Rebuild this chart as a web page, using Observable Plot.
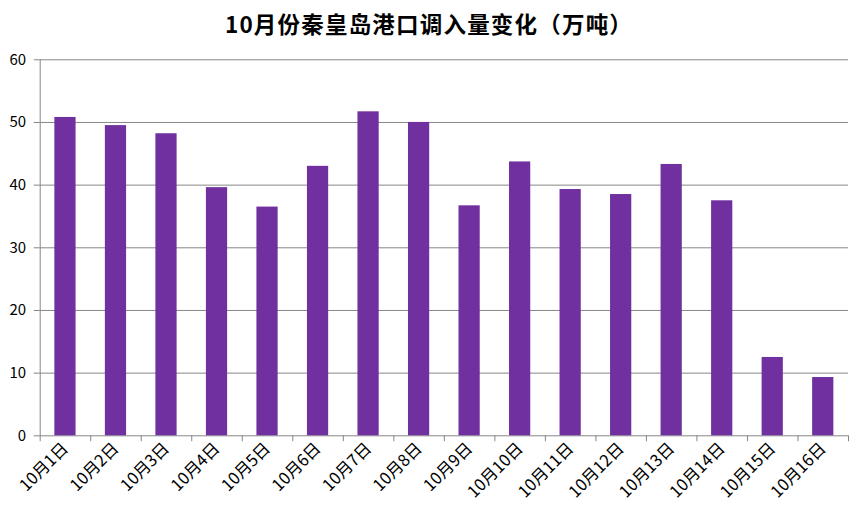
<!DOCTYPE html>
<html>
<head>
<meta charset="utf-8">
<script src="https://cdn.jsdelivr.net/npm/d3@7"></script>
<script src="https://cdn.jsdelivr.net/npm/@observablehq/plot@0.6"></script>
<style>
  html, body { margin: 0; padding: 0; background: #fff; overflow: hidden; }
  #title { height: 40px; line-height: 46px; text-align: center; font-family: "Noto Sans CJK SC", sans-serif; font-weight: bold; font-size: 22.5px; color: #000; letter-spacing: 1.2px; white-space: nowrap; }
  #chart svg { display: block; }
  #chart svg text { font-size: 15px; }
  #chart svg g.xlab text { font-size: 16.5px; }
</style>
</head>
<body>
<div id="title">10月份秦皇岛港口调入量变化（万吨）</div>
<div id="chart"></div>
<script>
const days = ["10月1日","10月2日","10月3日","10月4日","10月5日","10月6日","10月7日","10月8日",
              "10月9日","10月10日","10月11日","10月12日","10月13日","10月14日","10月15日","10月16日"];
const values = [50.8, 49.5, 48.2, 39.6, 36.5, 43.0, 51.7, 50.0,
                36.7, 43.7, 39.3, 38.5, 43.3, 37.5, 12.5, 9.3];
const yTicks = [0, 10, 20, 30, 40, 50, 60];

const data = days.map((d, i) => ({day: d, value: values[i]}));

const W = 858, H = 471;
const mL = 39.7, mR = 10, mT = 19.3, mB = 75.7;
const step = (W - mL - mR) / days.length;

const chart = Plot.plot({
  width: W,
  height: H,
  marginLeft: mL,
  marginRight: mR,
  marginTop: mT,
  marginBottom: mB,
  style: {fontFamily: "'Noto Sans CJK SC', sans-serif", fontSize: "15px", color: "#000", background: "#fff"},
  x: {type: "band", domain: days, padding: 0.58, align: 0.5, paddingOuter: 0.29, round: false, label: null},
  y: {domain: [0, 60], ticks: yTicks, label: null},
  marks: [
    Plot.ruleY(yTicks, {stroke: "#868686", strokeWidth: 1}),
    Plot.barY(data, {x: "day", y: "value", fill: "#7030A0"}),
    Plot.ruleX([days[0]], {x: d => d, dx: -step / 2, y1: 0, y2: 60, stroke: "#868686"}),
    Plot.ruleX(days, {x: d => d, dx: -step / 2, y1: 0, y2: -0.95, stroke: "#868686"}),
    Plot.ruleX([days[days.length - 1]], {x: d => d, dx: step / 2, y1: 0, y2: -0.95, stroke: "#868686"}),
    Plot.axisY({ticks: yTicks, tickSize: 6, tickPadding: 8, stroke: "#868686", tickFormat: d => d}),
    Plot.axisX({tickSize: 0, tickRotate: -45, tickPadding: 10, className: "xlab"})
  ]
});
document.getElementById("chart").appendChild(chart);
</script>
</body>
</html>
